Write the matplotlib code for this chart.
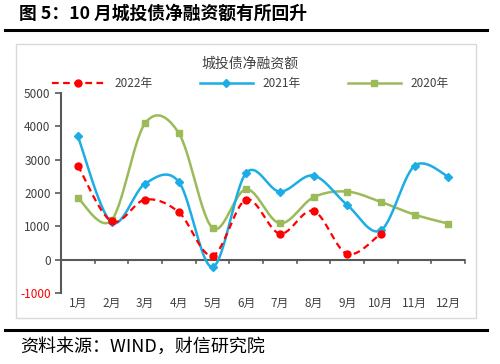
import matplotlib
matplotlib.use("Agg")
import matplotlib.pyplot as plt
from matplotlib.lines import Line2D
from matplotlib.patches import Rectangle
import numpy as np

plt.rcParams["font.family"] = ["Noto Sans CJK SC", "DejaVu Sans"]

months = ["1月", "2月", "3月", "4月", "5月", "6月", "7月", "8月", "9月", "10月", "11月", "12月"]
y2022 = [2820, 1150, 1800, 1420, 120, 1800, 780, 1460, 170, 780]
y2021 = [3700, 1120, 2280, 2330, -220, 2600, 2040, 2520, 1640, 880, 2810, 2490]
y2020 = [1850, 1180, 4090, 3790, 950, 2110, 1090, 1870, 2040, 1730, 1350, 1080]
yticks = [-1000, 0, 1000, 2000, 3000, 4000, 5000]


def smooth(xs, ys, n=30):
    # excel style smoothed line (catmull-rom bezier)
    xs = np.asarray(xs, float)
    ys = np.asarray(ys, float)
    px = np.concatenate([[xs[0]], xs, [xs[-1]]])
    py = np.concatenate([[ys[0]], ys, [ys[-1]]])
    ox, oy = [], []
    t = np.linspace(0, 1, n)
    for i in range(1, len(px) - 2):
        p0 = np.array([px[i], py[i]])
        p3 = np.array([px[i + 1], py[i + 1]])
        p1 = p0 + (np.array([px[i + 1], py[i + 1]]) - np.array([px[i - 1], py[i - 1]])) / 6
        p2 = p3 - (np.array([px[i + 2], py[i + 2]]) - np.array([px[i], py[i]])) / 6
        b = ((1 - t) ** 3)[:, None] * p0 + (3 * (1 - t) ** 2 * t)[:, None] * p1 \
            + (3 * (1 - t) * t ** 2)[:, None] * p2 + (t ** 3)[:, None] * p3
        ox.extend(b[:, 0])
        oy.extend(b[:, 1])
    return ox, oy


fig = plt.figure(figsize=(5, 3.64), dpi=100)

fig.text(0.038, 0.962, "图 5：10 月城投债净融资额有所回升", fontsize=12.8, fontweight="bold",
         va="center", ha="left")
fig.add_artist(Line2D([0.01, 0.973], [0.917, 0.917], color="black", lw=2.2,
                      transform=fig.transFigure))
fig.add_artist(Line2D([0.01, 0.973], [0.093, 0.093], color="black", lw=2.2,
                      transform=fig.transFigure))
fig.text(0.04, 0.047, "资料来源：WIND，财信研究院", fontsize=13, style="italic",
         va="center", ha="left")
fig.patches.append(Rectangle((0.032, 0.127), 0.92, 0.753, transform=fig.transFigure,
                             fill=False, edgecolor="#d9d9d9", lw=1))
fig.text(0.5, 0.826, "城投债净融资额", fontsize=10, color="#404040", ha="center", va="center")

ax = fig.add_axes([0.122, 0.195, 0.808, 0.55])

x = np.arange(1, 13)
sx, sy = smooth(x[:len(y2020)], y2020)
ax.plot(sx, sy, color="#9BBB59", lw=1.8)
ax.plot(x[:len(y2020)], y2020, "s", color="#9BBB59", ms=5)
sx, sy = smooth(x[:len(y2021)], y2021)
ax.plot(sx, sy, color="#1CADE4", lw=1.8)
ax.plot(x[:len(y2021)], y2021, "D", color="#1CADE4", ms=4)
sx, sy = smooth(x[:len(y2022)], y2022)
ax.plot(sx, sy, color="#FF0000", lw=1.6, ls=(0, (3, 2)))
ax.plot(x[:len(y2022)], y2022, "o", color="#FF0000", ms=5)

ax.set_xlim(0.5, 12.5)
ax.set_ylim(-1000, 5000)
ax.set_yticks(yticks)
ax.set_yticklabels([str(v) for v in yticks], fontsize=8.5, color="#404040")
ax.get_yticklabels()[0].set_color("#FF0000")
ax.tick_params(axis="y", length=4, color="#595959", width=1.2)
ax.set_xticks([])
for s in ["top", "right", "bottom"]:
    ax.spines[s].set_visible(False)
ax.spines["left"].set_color("#595959")
ax.spines["left"].set_linewidth(1.5)
ax.axhline(0, color="#595959", lw=1.5, zorder=0)
for b in np.arange(1.5, 13, 1):
    ax.plot([b, b], [0, -100], color="#595959", lw=1.2, clip_on=False, zorder=0)
for i, m in enumerate(months):
    ax.text(x[i], -1300, m, ha="center", va="center", fontsize=8.5, color="#404040")

handles = [
    Line2D([], [], color="#FF0000", lw=1.6, ls=(0, (3, 2)), marker="o", ms=5),
    Line2D([], [], color="#1CADE4", lw=1.8, marker="D", ms=4),
    Line2D([], [], color="#9BBB59", lw=1.8, marker="s", ms=5),
]
fig.legend(handles, ["2022年", "2021年", "2020年"], loc="center", bbox_to_anchor=(0.5, 0.77),
           ncol=3, frameon=False, fontsize=8.5, handlelength=4.5, columnspacing=4,
           labelcolor="#404040")

fig.savefig("out.png", dpi=100)
